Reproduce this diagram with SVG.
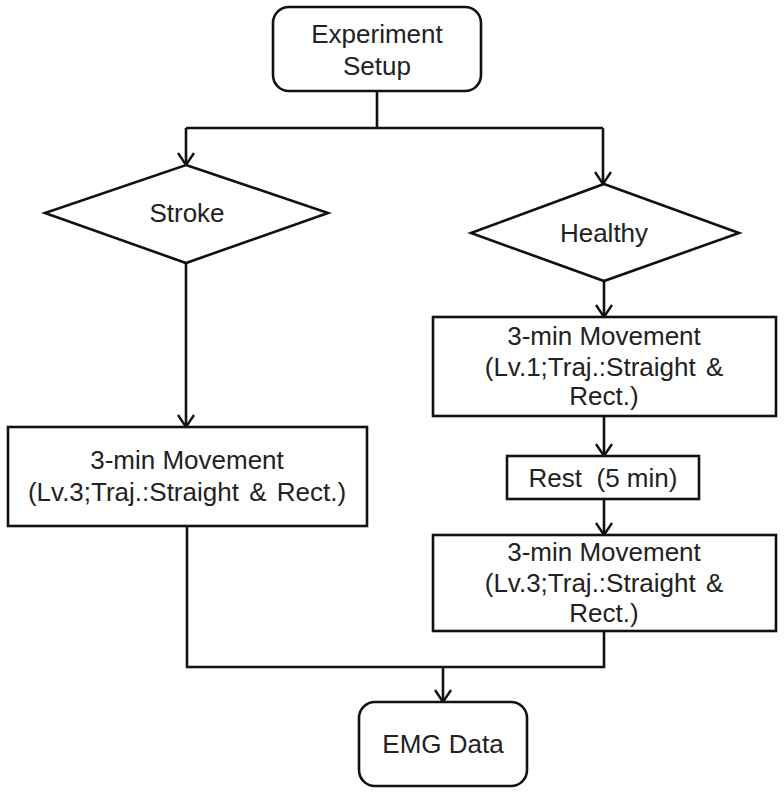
<svg xmlns="http://www.w3.org/2000/svg" width="784" height="794" viewBox="0 0 784 794">
<defs>
<marker id="arr" viewBox="0 0 14 18" refX="13" refY="9" markerWidth="14" markerHeight="18" markerUnits="userSpaceOnUse" orient="auto">
<path d="M1,1 L13,9 L1,17" fill="none" stroke="#111" stroke-width="2.4"/>
</marker>
<style>
.n{fill:#fff;stroke:#111;stroke-width:2.6}
.t{font-family:"Liberation Sans",Arial,sans-serif;font-size:26px;fill:#222;text-anchor:middle}
.w{word-spacing:3px}
.c{fill:none;stroke:#111;stroke-width:2.6}
</style>
</defs>
<rect width="784" height="794" fill="#fff"/>
<g id="connectors">
<path class="c" d="M377,91 V128"/>
<path class="c" d="M186,128 H603"/>
<path class="c" d="M186,128 V165" marker-end="url(#arr)"/>
<path class="c" d="M603,128 V184" marker-end="url(#arr)"/>
<path class="c" d="M186,263 V427" marker-end="url(#arr)"/>
<path class="c" d="M604,281 V317" marker-end="url(#arr)"/>
<path class="c" d="M604,416 V456" marker-end="url(#arr)"/>
<path class="c" d="M604,499 V535" marker-end="url(#arr)"/>
<path class="c" d="M187,526 V667 H604 V631"/>
<path class="c" d="M443,667 V702" marker-end="url(#arr)"/>
</g>
<g id="setup">
<rect class="n" x="273" y="7" width="208" height="84" rx="16"/>
<text class="t" x="377" y="43">Experiment</text>
<text class="t" x="377" y="75">Setup</text>
</g>
<g id="stroke">
<polygon class="n" points="186,165 328,213 186,263 45,213"/>
<text class="t" x="187" y="222">Stroke</text>
</g>
<g id="healthy">
<polygon class="n" points="604,184 739,233 604,281 471,233"/>
<text class="t" x="604" y="242">Healthy</text>
</g>
<g id="stroke-move">
<rect class="n" x="8" y="427" width="359" height="99"/>
<text class="t" x="187" y="469">3-min Movement</text>
<text class="t w" x="187" y="501">(Lv.3;Traj.:Straight &amp; Rect.)</text>
</g>
<g id="healthy-move1">
<rect class="n" x="433" y="317" width="343" height="99"/>
<text class="t" x="604" y="345">3-min Movement</text>
<text class="t w" x="604" y="376">(Lv.1;Traj.:Straight &amp;</text>
<text class="t" x="604" y="405">Rect.)</text>
</g>
<g id="rest">
<rect class="n" x="507" y="456" width="192" height="43"/>
<text class="t" x="603" y="487" xml:space="preserve">Rest  (5 min)</text>
</g>
<g id="healthy-move2">
<rect class="n" x="433" y="535" width="343" height="96"/>
<text class="t" x="604" y="561">3-min Movement</text>
<text class="t w" x="604" y="592">(Lv.3;Traj.:Straight &amp;</text>
<text class="t" x="604" y="622">Rect.)</text>
</g>
<g id="emg">
<rect class="n" x="359" y="702" width="168" height="84" rx="16"/>
<text class="t" x="443" y="753">EMG Data</text>
</g>
</svg>
